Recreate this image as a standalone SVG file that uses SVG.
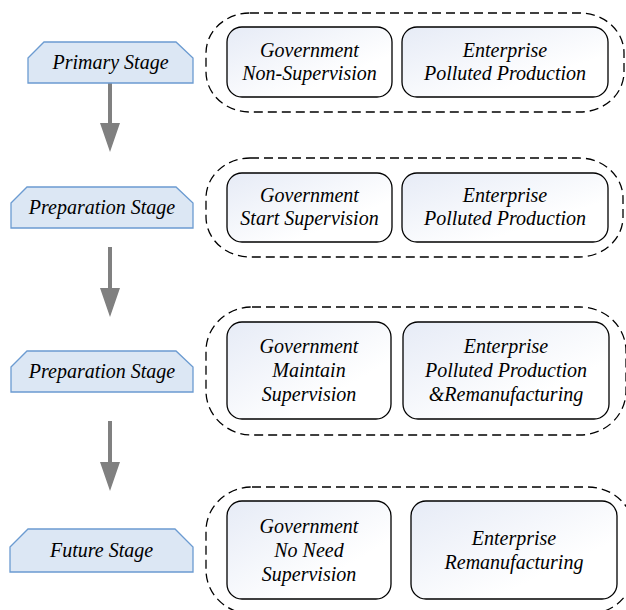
<svg xmlns="http://www.w3.org/2000/svg" width="626" height="610" viewBox="0 0 626 610">
<defs>
<linearGradient id="boxgrad" x1="0" y1="0" x2="1" y2="1">
<stop offset="0" stop-color="#e6ebf6"/>
<stop offset="0.7" stop-color="#ffffff"/>
</linearGradient>
</defs>
<style>
.tag{fill:#dce7f4;stroke:#6b9bd1;stroke-width:1.3}
.cont{fill:none;stroke:#000;stroke-width:1.3;stroke-dasharray:9 5}
.box{fill:url(#boxgrad);stroke:#000;stroke-width:1.3}
.t{font-family:'Liberation Serif','Times New Roman',serif;font-style:italic;font-size:20px;fill:#000;text-anchor:middle}
.arr{fill:#808080;stroke:none}
</style>
<rect width="626" height="610" fill="#fff"/>
<g id="connectors">
<path class="arr" d="M108,83 H112 V123 H120 L110,152 L100,123 H108 Z"/>
<path class="arr" d="M108,247 H112 V288 H120 L110,317 L100,288 H108 Z"/>
<path class="arr" d="M108,421 H112 V462 H120 L110,491 L100,462 H108 Z"/>
</g>
<g id="stage1">
<polygon class="tag" points="28,58 44,42 176,42 193,58 193,83 28,83"/>
<text class="t" x="110.5" y="69">Primary Stage</text>
</g>
<g id="stage2">
<polygon class="tag" points="11,203 27,187 176,187 193,203 193,228 11,228"/>
<text class="t" x="102" y="214">Preparation Stage</text>
</g>
<g id="stage3">
<polygon class="tag" points="11,367 27,351 176,351 193,367 193,392 11,392"/>
<text class="t" x="102" y="378">Preparation Stage</text>
</g>
<g id="stage4">
<polygon class="tag" points="10,547 28,529 175,529 193,547 193,572 10,572"/>
<text class="t" x="101.5" y="557">Future Stage</text>
</g>
<g id="group1">
<rect class="cont" x="206" y="13" width="418" height="99" rx="44" ry="40"/>
<g id="gov1">
<rect class="box" x="227" y="27" width="165" height="70" rx="15"/>
<text class="t" x="309.5" y="57">Government</text>
<text class="t" x="309.5" y="80">Non-Supervision</text>
</g>
<g id="ent1">
<rect class="box" x="402" y="27" width="206" height="70" rx="15"/>
<text class="t" x="505" y="57">Enterprise</text>
<text class="t" x="505" y="80">Polluted Production</text>
</g>
</g>
<g id="group2">
<rect class="cont" x="206" y="158" width="417" height="99" rx="44" ry="40"/>
<g id="gov2">
<rect class="box" x="227" y="173" width="165" height="69" rx="15"/>
<text class="t" x="309.5" y="202">Government</text>
<text class="t" x="309.5" y="225">Start Supervision</text>
</g>
<g id="ent2">
<rect class="box" x="402" y="173" width="206" height="69" rx="15"/>
<text class="t" x="505" y="202">Enterprise</text>
<text class="t" x="505" y="225">Polluted Production</text>
</g>
</g>
<g id="group3">
<rect class="cont" x="206" y="307" width="420" height="128" rx="46" ry="44"/>
<g id="gov3">
<rect class="box" x="227" y="322" width="164" height="97" rx="15"/>
<text class="t" x="309" y="353">Government</text>
<text class="t" x="309" y="377">Maintain</text>
<text class="t" x="309" y="401">Supervision</text>
</g>
<g id="ent3">
<rect class="box" x="403" y="322" width="206" height="97" rx="15"/>
<text class="t" x="506" y="353">Enterprise</text>
<text class="t" x="506" y="377">Polluted Production</text>
<text class="t" x="506" y="401">&amp;Remanufacturing</text>
</g>
</g>
<g id="group4">
<rect class="cont" x="206" y="487" width="428" height="127" rx="46" ry="44"/>
<g id="gov4">
<rect class="box" x="227" y="501" width="164" height="98" rx="15"/>
<text class="t" x="309" y="533">Government</text>
<text class="t" x="309" y="557">No Need</text>
<text class="t" x="309" y="581">Supervision</text>
</g>
<g id="ent4">
<rect class="box" x="411" y="501" width="206" height="98" rx="15"/>
<text class="t" x="514" y="545">Enterprise</text>
<text class="t" x="514" y="569">Remanufacturing</text>
</g>
</g>
</svg>
